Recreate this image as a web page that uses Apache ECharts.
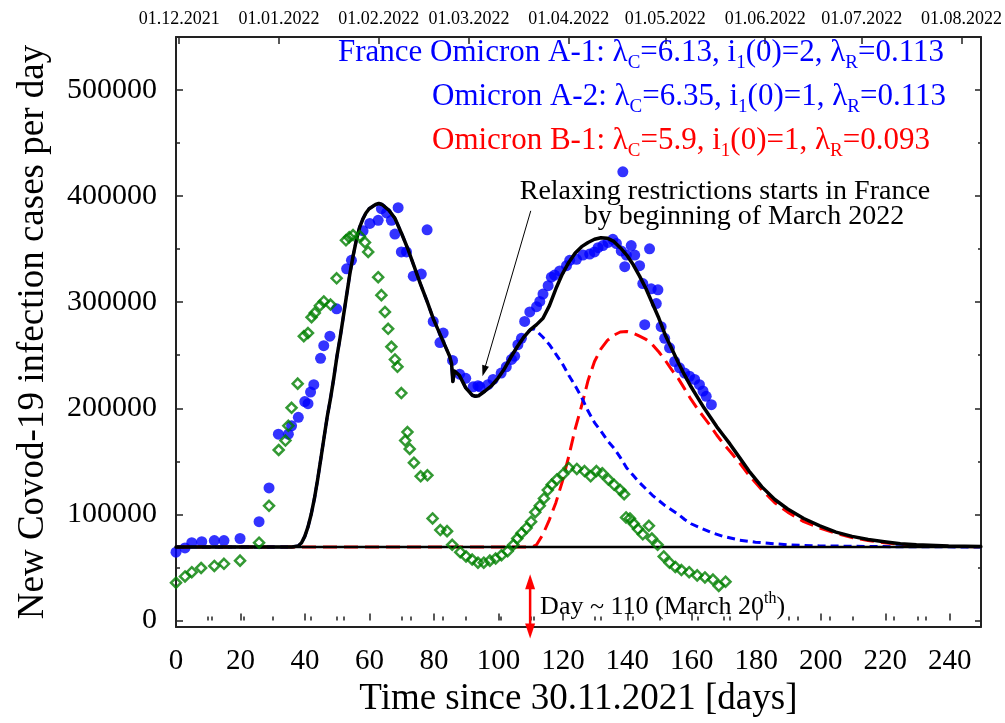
<!DOCTYPE html>
<html><head><meta charset="utf-8">
<script src="https://cdn.jsdelivr.net/npm/echarts@6/dist/echarts.min.js"></script>
<style>html,body{margin:0;padding:0;background:#fff}#c{width:1005px;height:723px}</style>
</head><body><div id="c"></div>
<script>
const FONT = 'Liberation Serif';
const baselineLevel = 66000;
const monthDays = [1, 32, 63, 91, 122, 152, 183, 213, 244];
const monthLabels = ['01.12.2021','01.01.2022','01.02.2022','01.03.2022','01.04.2022','01.05.2022','01.06.2022','01.07.2022','01.08.2022'];
const minorTopDays = [11, 21, 42, 52, 73, 83, 101, 111, 132, 142, 162, 172, 193, 203, 223, 233];

// France data (blue dots)
const blueDotDays = [0,2.8,4.9,8,11.9,14.9,19.9,25.8,28.9,31.8,34.9,35.9,38,40,41,41.8,42.8,44.9,45.9,47.8,49.9,53,54.5,58.1,60.2,62.8,63.8,65.4,66.9,68,69,70,71.6,73.7,76.2,78,79.9,82,83,85.9,88.1,90,92.3,93.8,94.4,96.9,98.5,101,102.6,104.2,105.2,106.2,107.3,108.3,109.9,112,113,114,115.6,116.6,117.6,119.2,121.3,122.3,124.4,126.4,128.5,130,131.1,132.6,134.2,135.7,136.8,138.3,138.8,139.4,139.9,141.4,142.5,144,145,145.6,147.1,147.6,149.2,149.7,150.7,151.8,153.3,154.9,156.4,158,159.5,161.1,162.6,163.7,164.7,166.3];
const blueDotCases = [61000,65000,70000,71000,72000,72000,74000,90000,122000,173000,173000,181000,189000,204000,202000,213000,220000,245000,257000,266000,292000,330000,338000,366000,373000,376000,387000,383000,376000,363000,388000,346000,346000,323000,325000,367000,280000,260000,269000,243000,230000,226000,218000,219000,218000,220000,225000,231000,237000,244000,247000,258000,264000,280000,289000,294000,299000,306000,314000,322000,324000,328000,333000,338000,339000,343000,344000,346000,350000,352000,355000,358000,354000,347000,422000,332000,343000,352000,343000,333000,316000,277000,349000,311000,297000,310000,275000,264000,255000,242000,236000,231000,228000,225000,220000,214000,209000,201000];

// Green diamonds
const greenDays = [0,2.8,4.9,7.8,11.9,14.9,19.9,25.8,28.9,31.9,34,34.9,35.9,37.8,39.7,41,42.1,43.1,44.7,45.9,48,49.9,52.8,53.8,55,57.1,58.7,59.7,62.8,63.8,64.9,65.9,66.9,68,68.8,70,71.2,71.9,72.6,73.9,76,78.1,79.7,82.1,84.2,85.8,88.3,90.1,92,93.8,95.6,97.5,99.3,101.1,103,104.8,106,107.3,108.9,110.3,111.6,113,114.3,115.5,116.7,118.3,120.2,122,124.5,126.9,128.8,130.6,132.4,134.3,136.1,138,139.2,139.8,141,142.2,143.5,145,146.9,147.8,149.6,151.5,153.3,155.1,157,159.4,161.9,164.3,166.8,168.6,170.7];
const greenCases = [32000,38000,42000,46000,48000,50000,53000,70000,105000,158000,167000,181000,198000,221000,266000,269000,284000,288000,295000,299000,296000,321000,357000,360000,362000,361000,355000,346000,322000,305000,289000,273000,256000,244000,237000,212000,167000,175000,159000,146000,133000,134000,93000,82000,81000,68000,61000,57000,54000,51000,51000,53000,55000,58000,62000,68000,74000,79000,84000,90000,99000,105000,112000,120000,125000,130000,135000,141000,140000,138000,133000,138000,136000,130000,125000,120000,116000,94000,93000,88000,83000,78000,86000,74000,68000,57000,51000,47000,44000,42000,39000,37000,35000,29000,33000];

// Model: total (black)
const totalDays = [0,36,38,39,40,41,42,43,44,45,46,47,48,49,50,51,52,53,54,55,56,57,58,59,60,62,63,64,66,68,70,72,74,76,78,80,82,84,85,85.6,86,86.5,87.1,88,90,92,93,94,96,98,100,102,104,106,108,110,112,114,116,118,120,122,124,126,128,130,132,134,136,138,140,142,144,146,148,150,152,154,156,158,160,162,164,166,168,170,172,175,178,182,186,190,195,200,205,210,215,220,225,230,240,250];
const totalCases = [66000,66000,67000,70000,76000,85000,97000,112000,130000,150000,170000,190000,207000,226000,247000,265000,285000,305000,325000,342000,357000,369000,377000,383000,387000,391000,392000,391000,386000,378000,364000,349000,332000,315000,299000,282000,268000,254000,247000,240000,223000,233000,234000,229000,217000,210000,209000,209500,214000,219000,226000,235000,246000,256000,265000,272000,277000,283000,295000,311000,325000,336000,345000,351000,355000,358000,359500,359000,356000,350000,343000,334000,323000,311000,297000,283000,267000,254000,241000,229000,218000,208000,198000,189000,180000,172000,164000,151000,138000,123000,111000,102000,93000,86000,80000,76000,73000,71000,69000,68000,66800,66300];

// Model: Omicron A (blue dashed), follows total until day 108
const aSplitDay = 108;
const aTailDays = [110,111,112,114,116,118,120,122,124,126,128,130,132,134,136,138,140,142,144,146,148,150,152,154,156,158,160,163,166,170,175,180,190,200,215,230,250];
const aTailCases = [272000,273000,271000,265000,258000,249000,240000,229000,219000,208000,195000,184000,176000,167000,160000,151000,141000,134000,127000,121000,115000,110000,105000,101000,97000,92000,88000,84000,80000,76000,72500,70500,68000,67000,66400,66100,66000];

// Model: Omicron B-1 (red dashed)
const bDays = [0,110,111,112,114,116,118,120,122,124,126,128,130,132,134,136,138,140,142,144,146,148,150,152,154,156,158,160,162,164,166,168,170,172,175,178,182,186,190,195,200,205,210,215,220,225,230,240,250];
const bCases = [66000,66000,66500,68000,78000,92000,108000,128000,152000,178000,200000,224000,242000,254000,262000,267000,270000,270500,269000,266000,263000,258000,251000,243000,234000,226000,216000,206000,197000,189000,181000,172000,164000,157000,146000,134000,120000,108000,99000,90000,84000,79000,75000,72000,70000,68500,67500,66500,66200];

const markerDay = 110;
const relaxArrowFrom = [110.2, 385000];
const relaxArrowTo = [95.2, 228000];

const zip = (xs, ys) => xs.map((x, i) => [x, ys[i]]);
const modelA = zip(totalDays, totalCases).filter(p => p[0] <= aSplitDay).concat(zip(aTailDays, aTailCases));
const dayCats = Array.from({length: 251}, (_, i) => String(i));

const chart = echarts.init(document.getElementById('c'));
const axisLineStyle = {color: '#222', width: 2};
const option = {
  animation: false,
  backgroundColor: '#fff',
  grid: [
    {left: 176, right: 23, top: 37, bottom: 92},
    {left: 176, right: 23, top: 90.036, bottom: 102.607},
    {left: 176, right: 55.24, top: 37, bottom: 92}
  ],
  xAxis: [
    {gridIndex: 0, type: 'value', position: 'bottom', min: 0, max: 250,
     axisLine: {show: true, onZero: false, lineStyle: axisLineStyle}, axisTick: {show: false}, axisLabel: {show: false}, splitLine: {show: false},
     name: 'Time since 30.11.2021 [days]', nameLocation: 'middle', nameGap: 54,
     nameTextStyle: {fontFamily: FONT, fontSize: 37, color: '#000'}},
    {gridIndex: 0, type: 'category', position: 'top', data: dayCats, boundaryGap: false,
     axisLine: {show: true, onZero: false, lineStyle: axisLineStyle},
     axisTick: {show: true, inside: true, length: 7, interval: (i) => monthDays.includes(i), lineStyle: {color: '#222', width: 1.5}},
     axisLabel: {show: true, interval: (i) => monthDays.includes(i), margin: 9,
       formatter: (v) => monthLabels[monthDays.indexOf(Number(v))] || '',
       fontFamily: FONT, fontSize: 18, color: '#000'},
     splitLine: {show: false}},
    {gridIndex: 0, type: 'category', position: 'top', data: dayCats, boundaryGap: false,
     axisLine: {show: false},
     axisTick: {show: true, inside: true, length: 4, interval: (i) => minorTopDays.includes(i), lineStyle: {color: '#222', width: 1.5}},
     axisLabel: {show: false}, splitLine: {show: false}},
    {gridIndex: 1, type: 'value', min: 0, max: 250, show: false},
    {gridIndex: 2, type: 'value', position: 'bottom', min: 0, max: 240, interval: 20,
     axisLine: {show: false},
     axisTick: {show: true, inside: true, length: 7, lineStyle: {color: '#222', width: 1.5}},
     minorTick: {show: true, splitNumber: 2, length: 4, lineStyle: {color: '#222', width: 1.5}},
     axisLabel: {show: true, margin: 16, fontFamily: FONT, fontSize: 29, color: '#000'},
     splitLine: {show: false}, minorSplitLine: {show: false}}
  ],
  yAxis: [
    {gridIndex: 0, type: 'value', position: 'left', min: -10000, max: 550000,
     axisLine: {show: true, onZero: false, lineStyle: axisLineStyle}, axisTick: {show: false}, axisLabel: {show: false}, splitLine: {show: false},
     name: 'New Covod-19 infection cases per day', nameLocation: 'middle', nameGap: 124, nameRotate: 90,
     nameTextStyle: {fontFamily: FONT, fontSize: 37, color: '#000'}},
    {gridIndex: 0, type: 'value', position: 'right', min: -10000, max: 550000,
     axisLine: {show: true, onZero: false, lineStyle: axisLineStyle}, axisTick: {show: false}, axisLabel: {show: false}, splitLine: {show: false}},
    {gridIndex: 1, type: 'value', position: 'left', min: 0, max: 500000, interval: 100000,
     axisLine: {show: false},
     axisTick: {show: true, inside: true, length: 7, lineStyle: {color: '#222', width: 1.5}},
     minorTick: {show: true, splitNumber: 2, length: 4, lineStyle: {color: '#222', width: 1.5}},
     axisLabel: {show: true, margin: 19, fontFamily: FONT, fontSize: 30, color: '#000', formatter: (v) => String(v)},
     splitLine: {show: false}, minorSplitLine: {show: false}},
    {gridIndex: 1, type: 'value', position: 'right', min: 0, max: 500000, interval: 100000,
     axisLine: {show: false},
     axisTick: {show: true, inside: true, length: 7, lineStyle: {color: '#222', width: 1.5}},
     minorTick: {show: true, splitNumber: 2, length: 4, lineStyle: {color: '#222', width: 1.5}},
     axisLabel: {show: false}, splitLine: {show: false}, minorSplitLine: {show: false}},
    {gridIndex: 2, type: 'value', min: -10000, max: 550000, show: false}
  ],
  series: [
    {type: 'scatter', name: 'France', xAxisIndex: 0, yAxisIndex: 0, data: zip(blueDotDays, blueDotCases),
     symbol: 'circle', symbolSize: 11, itemStyle: {color: '#0000ff'}, z: 2},
    {type: 'line', name: 'B-1', xAxisIndex: 0, yAxisIndex: 0, data: zip(bDays, bCases), showSymbol: false, symbol: 'none',
     lineStyle: {color: '#ff0000', width: 3, type: [14, 7]}, z: 3},
    {type: 'line', name: 'A', xAxisIndex: 0, yAxisIndex: 0, data: modelA, showSymbol: false, symbol: 'none',
     lineStyle: {color: '#0000ff', width: 3, type: [8, 5]}, z: 3},
    {type: 'line', name: 'baseline', xAxisIndex: 0, yAxisIndex: 0, data: [[0, baselineLevel], [250, baselineLevel]], showSymbol: false, symbol: 'none',
     lineStyle: {color: '#000', width: 2.5}, z: 4},
    {type: 'line', name: 'total', xAxisIndex: 0, yAxisIndex: 0, data: zip(totalDays, totalCases), showSymbol: false, symbol: 'none',
     lineStyle: {color: '#000', width: 3.5, join: 'round', cap: 'round'}, z: 5},
    {type: 'scatter', name: 'green', xAxisIndex: 0, yAxisIndex: 0, data: zip(greenDays, greenCases),
     symbol: 'diamond', symbolSize: 10, itemStyle: {color: 'rgba(0,0,0,0)', borderColor: '#008000', borderWidth: 2.5}, z: 6}
  ]
};
chart.setOption(option);

const px = (d, v) => chart.convertToPixel({xAxisIndex: 0, yAxisIndex: 0}, [d, v]);
const g = [];
function txt(x, y, parts, align) {
  return {type: 'text', x: x, y: y, z: 100, silent: true,
    style: {text: parts.text, rich: parts.rich, align: align || 'left', verticalAlign: 'middle'}};
}
function modelText(color, segs) {
  const rich = {
    n: {fontFamily: FONT, fontSize: 31, fill: color, lineHeight: 40},
    s: {fontFamily: FONT, fontSize: 19, fill: color, lineHeight: 19, verticalAlign: 'bottom'}
  };
  return {text: segs.map(s => '{' + s[0] + '|' + s[1] + '}').join(''), rich: rich};
}
g.push(txt(338, 53, modelText('#0000ff', [['n','France Omicron A-1: λ'],['s','C'],['n','=6.13, i'],['s','1'],['n','(0)=2, λ'],['s','R'],['n','=0.113']])));
g.push(txt(432, 97, modelText('#0000ff', [['n','Omicron A-2: λ'],['s','C'],['n','=6.35, i'],['s','1'],['n','(0)=1, λ'],['s','R'],['n','=0.113']])));
g.push(txt(432, 141, modelText('#ff0000', [['n','Omicron B-1: λ'],['s','C'],['n','=5.9, i'],['s','1'],['n','(0)=1, λ'],['s','R'],['n','=0.093']])));
g.push({type: 'text', x: 725, y: 192, z: 100, style: {text: 'Relaxing restrictions starts in France', fontFamily: FONT, fontSize: 28, fill: '#000', align: 'center', verticalAlign: 'middle'}});
g.push({type: 'text', x: 744, y: 217, z: 100, style: {text: 'by beginning of March 2022', fontFamily: FONT, fontSize: 28, fill: '#000', align: 'center', verticalAlign: 'middle'}});

// relaxing arrow
const a0 = px(relaxArrowFrom[0], relaxArrowFrom[1]);
const a1 = px(relaxArrowTo[0], relaxArrowTo[1]);
const dx = a1[0] - a0[0], dy = a1[1] - a0[1], len = Math.hypot(dx, dy);
const ux = dx / len, uy = dy / len, nx = -uy, ny = ux, HL = 11, HW = 3.5;
g.push({type: 'line', z: 100, shape: {x1: a0[0], y1: a0[1], x2: a1[0] - ux * HL * 0.7, y2: a1[1] - uy * HL * 0.7}, style: {stroke: '#000', lineWidth: 1}});
g.push({type: 'polygon', z: 100, shape: {points: [[a1[0], a1[1]], [a1[0] - ux * HL + nx * HW, a1[1] - uy * HL + ny * HW], [a1[0] - ux * HL - nx * HW, a1[1] - uy * HL - ny * HW]]}, style: {fill: '#000'}});

// red double arrow at day 110
const rt = px(markerDay, 40000), rb = px(markerDay, -21000);
const rx = rt[0];
g.push({type: 'line', z: 100, shape: {x1: rx, y1: rt[1] + 10, x2: rx, y2: rb[1] - 10}, style: {stroke: '#ff0000', lineWidth: 2.5}});
g.push({type: 'polygon', z: 100, shape: {points: [[rx, rt[1]], [rx - 5, rt[1] + 15], [rx + 5, rt[1] + 15]]}, style: {fill: '#ff0000'}});
g.push({type: 'polygon', z: 100, shape: {points: [[rx, rb[1]], [rx - 5, rb[1] - 15], [rx + 5, rb[1] - 15]]}, style: {fill: '#ff0000'}});
g.push(txt(rx + 10, 607, {
  text: '{a|Day ~ 110 (March 20}{b|th}{a|)}',
  rich: {a: {fontFamily: FONT, fontSize: 26, fill: '#000', lineHeight: 32},
         b: {fontFamily: FONT, fontSize: 16, fill: '#000', lineHeight: 16, verticalAlign: 'top'}}
}));
chart.setOption({graphic: g});
</script>
</body></html>
